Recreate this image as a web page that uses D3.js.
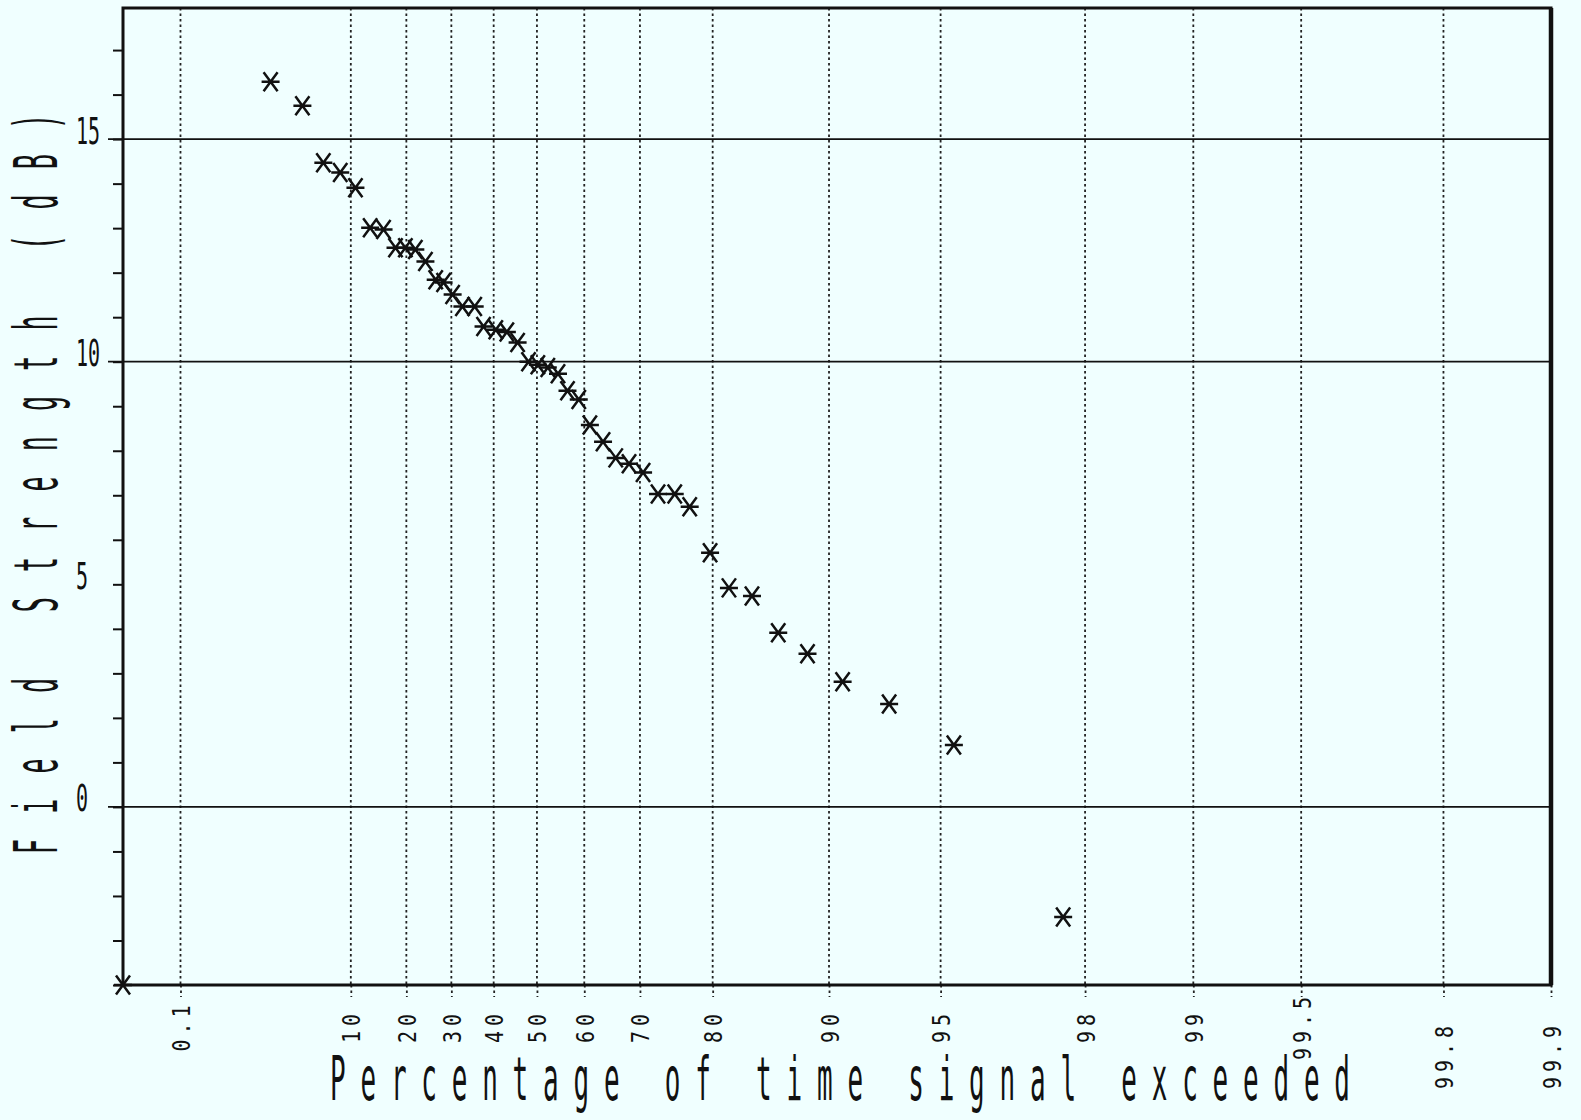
<!DOCTYPE html>
<html>
<head>
<meta charset="utf-8">
<script src="https://cdn.jsdelivr.net/npm/d3@7"></script>
<style>
  html, body { margin: 0; padding: 0; background: #f0ffff; }
  svg { display: block; }
  text { font-family: "DejaVu Sans Mono", "Liberation Mono", monospace; fill: #111; }
</style>
</head>
<body>
<svg id="chart" width="1581" height="1120"></svg>
<script>
// percentage of time the signal is exceeded, and field strength (dB)
var pctExceeded = [2.1, 4.3, 6.4, 8.5, 10.7, 13.1, 15.5, 17.8, 19.8, 21.9,
  24.1, 26.4, 28.2, 30.3, 32.6, 35.5, 37.6, 40.5, 43.1, 45.6,
  48.1, 50.2, 52.4, 54.6, 56.6, 58.9, 61.1, 63.6, 65.9, 68.2,
  70.5, 72.8, 75.2, 77.2, 79.7, 81.8, 84.1, 86.4, 88.6, 90.8,
  93.1, 95.4, 97.7];
var fieldDb = [16.29, 15.75, 14.47, 14.25, 13.91, 13.01, 12.97, 12.56, 12.56, 12.52,
  12.25, 11.84, 11.78, 11.51, 11.24, 11.24, 10.79, 10.72, 10.67, 10.43,
  10.0, 9.93, 9.87, 9.73, 9.35, 9.15, 8.58, 8.2, 7.84, 7.71,
  7.51, 7.03, 7.03, 6.74, 5.71, 4.92, 4.74, 3.91, 3.44, 2.81,
  2.31, 1.39, -2.47];

// the lone mark sitting on the origin corner
var cornerPct = [0.0045];
var cornerDb = [-4];

var xTicks = [0.1, 10, 20, 30, 40, 50, 60, 70, 80, 90, 95, 98, 99, 99.5, 99.8, 99.9];
var xTickLabels = ["0.1", "10", "20", "30", "40", "50", "60", "70", "80", "90", "95", "98", "99", "99.5", "99.8", "99.9"];
var yTicks = d3.range(-4, 18);
var yLabels = [0, 5, 10, 15];
var yGrid = [0, 10, 15];

var pctMin = 0.0045, pctMax = 99.9;
var dbMin = -4, dbMax = 17.9;

// rayleigh paper: position ~ log(-ln(P))
function rayl(p) { return Math.log10(-Math.log(p / 100)); }

var plotL = 123, plotR = 1551, plotT = 8, plotB = 985;

var x = d3.scaleLinear().domain([rayl(pctMin), rayl(pctMax)]).range([plotL, plotR]);
var y = d3.scaleLinear().domain([dbMin, dbMax]).range([plotB, 10]);

var svg = d3.select("#chart");
svg.append("rect").attr("width", 1581).attr("height", 1120).attr("fill", "#f0ffff");

// dotted vertical grid
svg.append("g")
  .selectAll("line")
  .data(xTicks.slice(0, -1))
  .enter().append("line")
    .attr("x1", d => x(rayl(d))).attr("x2", d => x(rayl(d)))
    .attr("y1", plotT).attr("y2", plotB)
    .attr("stroke", "#222").attr("stroke-width", 1.8)
    .attr("stroke-dasharray", "2.5,3");

// solid horizontal grid
svg.append("g")
  .selectAll("line")
  .data(yGrid)
  .enter().append("line")
    .attr("x1", 108).attr("x2", plotR)
    .attr("y1", d => y(d)).attr("y2", d => y(d))
    .attr("stroke", "#111").attr("stroke-width", 1.8);

// x axis
var xAxis = svg.append("g")
  .attr("transform", "translate(0," + plotB + ")")
  .call(d3.axisBottom(x)
    .tickValues(xTicks.map(rayl))
    .tickFormat((d, i) => xTickLabels[i])
    .tickSize(12));
xAxis.select(".domain").remove();
xAxis.selectAll(".tick line")
  .attr("stroke", "#222").attr("stroke-width", 1.8).attr("stroke-dasharray", "2.5,3");
xAxis.selectAll(".tick text")
  .attr("y", null).attr("dy", null)
  .attr("font-size", 20)
  .attr("letter-spacing", 5)
  .attr("text-anchor", "middle")
  .attr("transform", (d, i) => {
    var cy = xTicks[i] >= 99.8 ? 1052 : 1023;
    return "translate(9," + (cy - plotB + 3) + ") rotate(-90) scale(1,1.25)";
  });

// y axis
var yAxis = svg.append("g")
  .attr("transform", "translate(" + plotL + ",0)")
  .call(d3.axisLeft(y)
    .tickValues(yTicks)
    .tickSize(10)
    .tickFormat(d => yLabels.indexOf(d) >= 0 ? d : ""));
yAxis.select(".domain").remove();
yAxis.selectAll(".tick line").attr("stroke", "#111").attr("stroke-width", 2);
yAxis.selectAll(".tick text")
  .attr("x", null).attr("dy", null)
  .attr("font-size", 20)
  .attr("text-anchor", "start")
  .attr("transform", "translate(-47,4) scale(1,1.85)");

// frame
svg.append("rect")
  .attr("x", plotL).attr("y", plotT)
  .attr("width", plotR - plotL).attr("height", plotB - plotT)
  .attr("fill", "none").attr("stroke", "#111").attr("stroke-width", 3);
svg.append("line")
  .attr("x1", plotR).attr("x2", plotR).attr("y1", plotT).attr("y2", plotB)
  .attr("stroke", "#111").attr("stroke-width", 4.5);

// markers
var star = "M-9,0H9M-7,-9.5L7,9.5M-7,9.5L7,-9.5";
var pts = pctExceeded.map((p, i) => [p, fieldDb[i]])
  .concat(cornerPct.map((p, i) => [p, cornerDb[i]]));
svg.append("g")
  .selectAll("path")
  .data(pts)
  .enter().append("path")
    .attr("d", star)
    .attr("transform", d => "translate(" + x(rayl(d[0])) + "," + y(d[1]) + ")")
    .attr("fill", "none").attr("stroke", "#111").attr("stroke-width", 2.5);

// axis titles
svg.append("g")
  .attr("transform", "translate(840,1100) scale(1,2.3)")
  .append("text")
    .attr("text-anchor", "middle")
    .attr("font-size", 26)
    .attr("textLength", 1020)
    .attr("lengthAdjust", "spacing")
    .text("Percentage of time signal exceeded");

svg.append("g")
  .attr("transform", "translate(57,484) rotate(-90) scale(1,2.4)")
  .append("text")
    .attr("text-anchor", "middle")
    .attr("font-size", 25)
    .attr("textLength", 740)
    .attr("lengthAdjust", "spacing")
    .text("Field Strength (dB)");
</script>
</body>
</html>
